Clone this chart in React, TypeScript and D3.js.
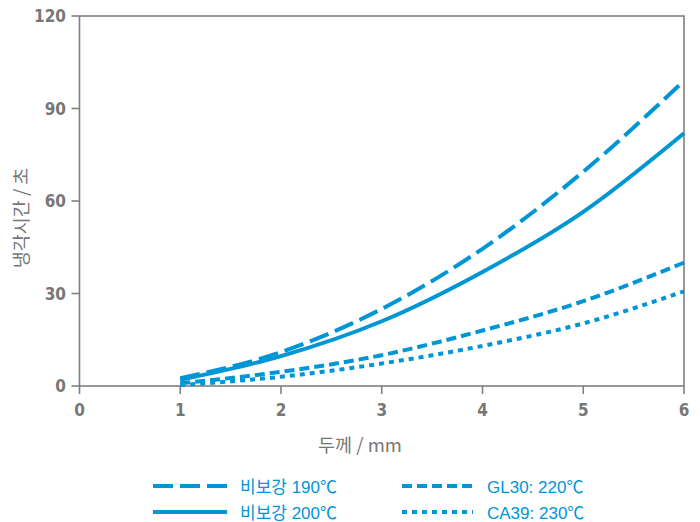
import React from "react";
import * as d3 from "d3";

const thickness = [1, 2, 3, 4, 5, 6];
const s190 = [2.5, 11, 25, 44.5, 69.5, 99];
const s200 = [2, 9.7, 21, 37, 56.5, 82];
const sGL30 = [0.9, 4.6, 10, 18, 27.5, 40];
const sCA39 = [0.3, 3, 7.3, 13, 20.3, 30.7];
const xTicks = [0, 1, 2, 3, 4, 5, 6];
const yTicks = [0, 30, 60, 90, 120];
const seriesNames = ["비보강 190℃", "비보강 200℃", "GL30: 220℃", "CA39: 230℃"];

const BLUE = "#0096d6";
const GRAY = "#808080";
const TXT = "#777777";

export default function App() {
  const W = 700, H = 522;
  const x = d3.scaleLinear().domain([0, 6]).range([79.5, 684]);
  const y = d3.scaleLinear().domain([0, 120]).range([386, 16]);
  const line = d3
    .line<number>()
    .x((_, i) => x(thickness[i]))
    .y((d) => y(d))
    .curve(d3.curveMonotoneX);

  const series = [
    { v: s190, dash: "20 7" },
    { v: s200, dash: null },
    { v: sGL30, dash: "10 5" },
    { v: sCA39, dash: "5 5" },
  ];
  const legendPos = [
    { x1: 153, x2: 227, y: 486, tx: 240 },
    { x1: 153, x2: 227, y: 512, tx: 240 },
    { x1: 402, x2: 473, y: 486, tx: 487 },
    { x1: 402, x2: 473, y: 512, tx: 487 },
  ];
  const tickFont = "'Liberation Sans Narrow', 'DejaVu Sans Condensed', 'Open Sans', sans-serif";
  const labelFont = "'Noto Sans CJK KR', 'Noto Sans', sans-serif";
  const legendFont = "'Liberation Sans', 'Noto Sans CJK KR', sans-serif";

  return (
    <svg width={W} height={H} style={{ position: "absolute", left: 0, top: 0 }}>
      <rect x={0} y={0} width={W} height={H} fill="#fff" />
      <rect
        x={x(0)}
        y={y(120)}
        width={x(6) - x(0)}
        height={y(0) - y(120)}
        fill="none"
        stroke={GRAY}
        strokeWidth={1.6}
      />
      {yTicks.map((t) => (
        <g key={"y" + t}>
          <line x1={x(0) - 8} x2={x(0)} y1={y(t)} y2={y(t)} stroke={GRAY} strokeWidth={1.6} />
          <text
            x={66}
            y={y(t)}
            textAnchor="end"
            dominantBaseline="central"
            fontFamily={tickFont}
            fontWeight="bold"
            fontSize={17}
            fill={TXT}
          >
            {t}
          </text>
        </g>
      ))}
      {xTicks.map((t) => (
        <g key={"x" + t}>
          <line x1={x(t)} x2={x(t)} y1={y(0)} y2={y(0) + 8} stroke={GRAY} strokeWidth={1.6} />
          <text
            x={x(t)}
            y={410}
            textAnchor="middle"
            dominantBaseline="central"
            fontFamily={tickFont}
            fontWeight="bold"
            fontSize={17}
            fill={TXT}
          >
            {t}
          </text>
        </g>
      ))}
      <text
        x={360}
        y={444}
        textAnchor="middle"
        dominantBaseline="central"
        fontFamily={labelFont}
        fontSize={18.5}
        fill={TXT}
      >
        두께 / mm
      </text>
      <text
        transform={`translate(20, 218) rotate(-90)`}
        textAnchor="middle"
        dominantBaseline="central"
        fontFamily={labelFont}
        fontSize={18.5}
        fill={TXT}
      >
        냉각시간 / 초
      </text>
      {series.map((s, i) => (
        <path
          key={"s" + i}
          d={line(s.v) || ""}
          fill="none"
          stroke={BLUE}
          strokeWidth={4}
          strokeDasharray={s.dash || undefined}
        />
      ))}
      {series.map((s, i) => {
        const p = legendPos[i];
        return (
          <g key={"l" + i}>
            <line
              x1={p.x1}
              x2={p.x2}
              y1={p.y}
              y2={p.y}
              stroke={BLUE}
              strokeWidth={4}
              strokeDasharray={s.dash || undefined}
            />
            <text
              x={p.tx}
              y={p.y + 1}
              dominantBaseline="central"
              fontFamily={legendFont}
              fontSize={17}
              fill={BLUE}
            >
              {seriesNames[i]}
            </text>
          </g>
        );
      })}
    </svg>
  );
}
